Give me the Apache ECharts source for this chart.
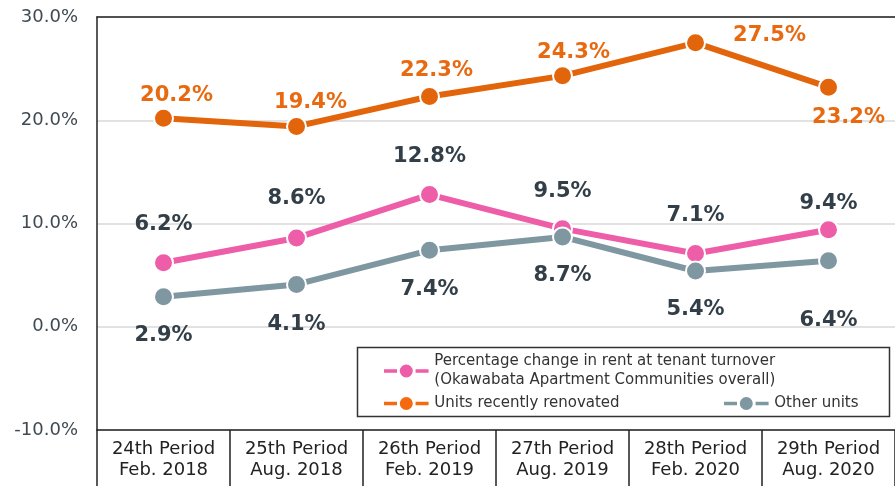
<!DOCTYPE html>
<html>
<head>
<meta charset="utf-8">
<script src="https://cdn.jsdelivr.net/npm/echarts@6/dist/echarts.min.js"></script>
<style>
  html, body { margin: 0; padding: 0; background: #fff; }
  #chart { width: 895px; height: 486px; }
</style>
</head>
<body>
<div id="chart"></div>
<script>
// periods (x axis)
const categories = [
  '24th Period\nFeb. 2018',
  '25th Period\nAug. 2018',
  '26th Period\nFeb. 2019',
  '27th Period\nAug. 2019',
  '28th Period\nFeb. 2020',
  '29th Period\nAug. 2020'
]
// rent change at turnover, %
const overall = [6.2, 8.6, 12.8, 9.5, 7.1, 9.4]
const renovated = [20.2, 19.4, 22.3, 24.3, 27.5, 23.2]
const otherUnits = [2.9, 4.1, 7.4, 8.7, 5.4, 6.4]
const yTicks = [-10, 0, 10, 20, 30]

const names = [
  'Percentage change in rent at tenant turnover\n(Okawabata Apartment Communities overall)',
  'Units recently renovated',
  'Other units'
]

// where each value label sits relative to its point
const overallOffsets = [[0, -38], [0, -39], [0, -38], [0, -37], [0, -38], [0, -26]]
const renovatedOffsets = [[13, -23], [14, -24], [7, -26], [11, -23], [74, -7], [20, 30]]
const otherOffsets = [[0, 39], [0, 40], [0, 39], [0, 39], [0, 39], [0, 60]]

const FONT = 'DejaVu Sans, Verdana, sans-serif'
const ORANGE = '#E2650B'
const PINK = '#EE5DA8'
const GRAY = '#7F97A1'
const DARK = '#333F48'

const legendIcon = 'path://M0,5h14v4h-14z M17,7a7,7 0 1,0 14,0a7,7 0 1,0 -14,0z M34,5h14v4h-14z'

function withLabels(values, offsets, color) {
  return values.map((v, i) => ({
    value: v,
    label: {
      show: true,
      position: 'inside',
      offset: offsets[i],
      formatter: v.toFixed(1) + '%',
      color: color,
      fontFamily: FONT,
      fontWeight: 'bold',
      fontSize: 21
    }
  }))
}

function lineSeries(name, values, offsets, color, labelColor) {
  return {
    name: name,
    type: 'line',
    data: withLabels(values, offsets, labelColor),
    symbol: 'circle',
    symbolSize: 19,
    lineStyle: { width: 6, color: color },
    itemStyle: { color: color, borderColor: '#fff', borderWidth: 2 },
    emphasis: { disabled: true }
  }
}

const myChart = echarts.init(document.getElementById('chart'))

const legendBase = {
  orient: 'vertical',
  icon: legendIcon,
  itemWidth: 46,
  itemHeight: 13,
  itemGap: 4,
  itemStyle: { borderWidth: 0 },
  textStyle: { fontFamily: FONT, fontSize: 15, color: '#333', lineHeight: 19 },
  selectedMode: false
}

const options = {
  animation: false,
  grid: {
    left: 97,
    top: 17,
    width: 806,
    height: 413
  },
  legend: [
    Object.assign({}, legendBase, {
      left: 379, top: 347,
      data: [{ name: names[0], itemStyle: { color: PINK } }]
    }),
    Object.assign({}, legendBase, {
      left: 379, top: 389,
      data: [{ name: names[1], itemStyle: { color: '#F56A10' } }]
    }),
    Object.assign({}, legendBase, {
      left: 719, top: 389,
      data: [{ name: names[2], itemStyle: { color: GRAY } }]
    })
  ],
  graphic: [{
    type: 'rect',
    shape: { x: 357.5, y: 347.5, width: 532, height: 69 },
    style: { fill: '#fff', stroke: '#333', lineWidth: 1.5 },
    z: 0
  }],
  xAxis: [{
    type: 'category',
    data: categories,
    boundaryGap: true,
    axisLine: { onZero: false, lineStyle: { color: '#222', width: 1.5 } },
    axisTick: { show: true, interval: 0, length: 58, lineStyle: { color: '#222', width: 1.5 } },
    axisLabel: {
      interval: 0,
      margin: 9,
      fontFamily: FONT,
      fontSize: 18,
      lineHeight: 21,
      color: '#222'
    },
    splitLine: { show: false }
  }, {
    // plain top frame line
    type: 'category',
    position: 'top',
    data: categories,
    axisLine: { onZero: false, lineStyle: { color: '#222', width: 1.5 } },
    axisTick: { show: false },
    axisLabel: { show: false },
    splitLine: { show: false }
  }],
  yAxis: {
    type: 'value',
    min: yTicks[0],
    max: yTicks[yTicks.length - 1],
    interval: 10,
    axisLine: { show: true, lineStyle: { color: '#222', width: 1.5 } },
    axisTick: { show: false },
    axisLabel: {
      margin: 19,
      fontFamily: FONT,
      fontSize: 18,
      color: '#3F4A52',
      formatter: v => v.toFixed(1) + '%'
    },
    splitLine: { lineStyle: { color: '#d9d9d9', width: 1.5 } }
  },
  series: [
    lineSeries(names[0], overall, overallOffsets, PINK, DARK),
    lineSeries(names[1], renovated, renovatedOffsets, ORANGE, '#E8690F'),
    lineSeries(names[2], otherUnits, otherOffsets, GRAY, DARK)
  ]
}

myChart.setOption(options)
window.addEventListener('resize', () => {
  myChart.resize()
})
</script>
</body>
</html>
